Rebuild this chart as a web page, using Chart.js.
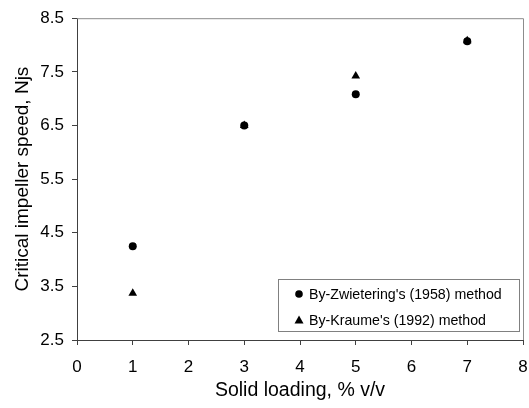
<!DOCTYPE html>
<html>
<head>
<meta charset="utf-8">
<script src="https://cdn.jsdelivr.net/npm/chart.js@4.4.1/dist/chart.umd.min.js"></script>
<style>
  html, body { margin: 0; padding: 0; background: #ffffff; }
  #wrap { width: 529px; height: 408px; }
</style>
</head>
<body>
<div id="wrap"><canvas id="chart" width="529" height="408"></canvas></div>
<script>
const solidLoading = [1, 3, 5, 7];
const zwieteringValues = [4.25, 6.5, 7.08, 8.07];
const kraumeValues = [3.37, 6.5, 7.42, 8.08];
const seriesLabels = ["By-Zwietering's (1958) method", "By-Kraume's (1992) method"];
const seriesStyles = ["circle", "triangle"];
const xTicks = [0, 1, 2, 3, 4, 5, 6, 7, 8];
const yTicks = [2.5, 3.5, 4.5, 5.5, 6.5, 7.5, 8.5];

function toPoints(xs, ys) {
  return xs.map((x, i) => ({ x: x, y: ys[i] }));
}

// grey top/right frame + legend box inside the plot
const frameAndLegend = {
  id: "frameAndLegend",
  afterDatasetsDraw(chart) {
    const { ctx, chartArea } = chart;
    ctx.save();
    ctx.strokeStyle = "#8c8c8c";
    ctx.lineWidth = 1;
    ctx.beginPath();
    ctx.moveTo(chartArea.left, chartArea.top + 0.5);
    ctx.lineTo(chartArea.right + 0.5, chartArea.top + 0.5);
    ctx.lineTo(chartArea.right + 0.5, chartArea.bottom);
    ctx.stroke();

    const box = { x: 278.5, y: 279.5, w: 241, h: 52 };
    ctx.fillStyle = "#ffffff";
    ctx.fillRect(box.x, box.y, box.w, box.h);
    ctx.strokeStyle = "#808080";
    ctx.strokeRect(box.x, box.y, box.w, box.h);

    ctx.font = "14.2px 'Liberation Sans', Arial, sans-serif";
    ctx.textBaseline = "middle";
    ctx.fillStyle = "#000000";
    seriesLabels.forEach((label, i) => {
      const cy = 294 + i * 26;
      const cx = 299;
      ctx.beginPath();
      if (seriesStyles[i] === "triangle") {
        ctx.moveTo(cx, cy - 4.5);
        ctx.lineTo(cx + 4.5, cy + 3.5);
        ctx.lineTo(cx - 4.5, cy + 3.5);
        ctx.closePath();
      } else {
        ctx.arc(cx, cy, 3.8, 0, Math.PI * 2);
      }
      ctx.fill();
      ctx.fillText(label, 309, cy + 1);
    });
    ctx.restore();
  },
};

new Chart(document.getElementById("chart"), {
  type: "scatter",
  data: {
    datasets: [
      {
        label: seriesLabels[1],
        data: toPoints(solidLoading, kraumeValues),
        pointStyle: seriesStyles[1],
        pointRadius: 5,
        backgroundColor: "#000000",
        borderColor: "#000000",
        borderWidth: 0,
      },
      {
        label: seriesLabels[0],
        data: toPoints(solidLoading, zwieteringValues),
        pointStyle: seriesStyles[0],
        pointRadius: 4,
        backgroundColor: "#000000",
        borderColor: "#000000",
        borderWidth: 0,
      },
    ],
  },
  options: {
    responsive: false,
    animation: false,
    layout: {
      padding: { top: 18, right: 0, left: 0, bottom: 0 },
    },
    plugins: {
      legend: { display: false },
      tooltip: { enabled: false },
    },
    scales: {
      x: {
        type: "linear",
        min: 0,
        max: 8,
        afterBuildTicks(scale) {
          scale.ticks = xTicks.map((v) => ({ value: v }));
        },
        afterFit(scale) {
          scale.height = 68;
          scale.paddingRight = 6;
          scale.paddingLeft = 0;
        },
        border: { display: true, color: "#404040", width: 1 },
        grid: {
          drawOnChartArea: false,
          drawTicks: true,
          tickLength: 5,
          color: "#404040",
        },
        ticks: {
          color: "#000000",
          padding: 12,
          font: { family: "'Liberation Sans', Arial", size: 17 },
        },
        title: {
          display: true,
          text: "Solid loading, % v/v",
          color: "#000000",
          padding: { top: 2, bottom: 6 },
          font: { family: "'Liberation Sans', Arial", size: 19.5 },
        },
      },
      y: {
        type: "linear",
        min: 2.5,
        max: 8.5,
        afterBuildTicks(scale) {
          scale.ticks = yTicks.map((v) => ({ value: v }));
        },
        afterFit(scale) {
          scale.width = 77;
        },
        border: { display: true, color: "#404040", width: 1 },
        grid: {
          drawOnChartArea: false,
          drawTicks: true,
          tickLength: 5,
          color: "#404040",
        },
        ticks: {
          color: "#000000",
          padding: 8,
          font: { family: "'Liberation Sans', Arial", size: 17 },
          callback(value) {
            return value.toFixed(1);
          },
        },
        title: {
          display: true,
          text: "Critical impeller speed, Njs",
          color: "#000000",
          padding: { top: 11, bottom: 0 },
          font: { family: "'Liberation Sans', Arial", size: 19 },
        },
      },
    },
  },
  plugins: [frameAndLegend],
});
</script>
</body>
</html>
